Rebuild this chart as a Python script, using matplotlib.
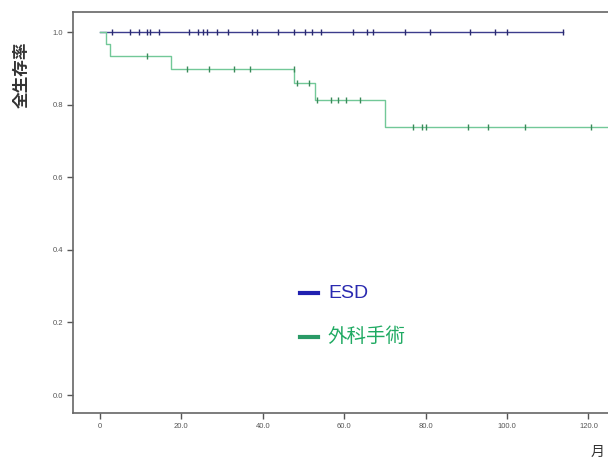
import numpy as np
import matplotlib
matplotlib.use("Agg")
import matplotlib.pyplot as plt
from matplotlib.lines import Line2D

# ---- data ----
esd_start_end = [0.0, 113.8]
esd_surv = [1.0, 1.0]
esd_censor = [3.1, 7.5, 9.7, 11.6, 12.3, 14.6, 21.9, 24.2, 25.4, 26.2, 28.7, 31.5,
              37.3, 38.5, 43.7, 47.7, 50.4, 52.0, 54.3, 62.1, 65.5, 67.0, 74.9,
              81.1, 90.9, 97.1, 99.9, 113.8]

surg_times = [0.0, 1.6, 2.6, 17.4, 47.7, 52.8, 70.0, 130.0]
surg_surv = [1.0, 0.967, 0.934, 0.900, 0.859, 0.812, 0.739, 0.739]
surg_censor = [11.6, 21.4, 26.9, 33.0, 36.9, 47.6, 48.3, 51.4, 53.4, 56.7, 58.6,
               60.4, 63.9, 76.8, 79.0, 80.1, 90.5, 95.4, 104.3, 120.6]

xticks = [0, 20, 40, 60, 80, 100, 120]
xticklabels = ["0", "20.0", "40.0", "60.0", "80.0", "100.0", "120.0"]
yticks = [0.0, 0.2, 0.4, 0.6, 0.8, 1.0]
yticklabels = ["0.0", "0.2", "0.4", "0.6", "0.8", "1.0"]
legend_labels = ["ESD", "外科手術"]

esd_line = "#3c3c8c"
esd_mark = "#2a2a70"
surg_line = "#72c898"
surg_mark = "#3a8a5a"
esd_text = "#2a2ab0"
surg_text = "#1faa62"

cjk = ["Noto Sans CJK JP", "DejaVu Sans"]
plt.rcParams['font.family'] = ["Liberation Sans", "Noto Sans CJK JP", "DejaVu Sans"]

fig = plt.figure(figsize=(6.08, 4.61), dpi=100)
ax = fig.add_axes([73/608, 1-413/461, 1-73/608, (413-12)/461])

ax.step(esd_start_end, esd_surv, where='post', color=esd_line, lw=1.0)
ax.plot(esd_censor, np.interp(esd_censor, esd_start_end, esd_surv), ls='none',
        marker='|', ms=5, mew=1.0, color=esd_mark)

ax.step(surg_times, surg_surv, where='post', color=surg_line, lw=1.0)
idx = np.searchsorted(surg_times, surg_censor, side='right') - 1
ax.plot(surg_censor, np.array(surg_surv)[idx], ls='none',
        marker='|', ms=5, mew=1.0, color=surg_mark)

ax.set_xlim(-6.6, 124.8)
ax.set_ylim(-0.0496, 1.056)
ax.set_xticks(xticks)
ax.set_xticklabels(xticklabels)
ax.set_yticks(yticks)
ax.set_yticklabels(yticklabels)
ax.tick_params(axis='both', labelsize=5.5, colors='#555555', length=4, width=1, pad=3)
for s in ['left', 'bottom', 'top']:
    ax.spines[s].set_color('#666666')
    ax.spines[s].set_linewidth(1.2)
ax.spines['right'].set_visible(False)

# y label and x label
fig.text(22/608, 1-75/461, "全生存率", rotation=90, ha='center', va='center',
         fontsize=12, color='#333333', family=cjk, fontweight='bold')
fig.text(598/608, 1-452/461, "月", ha='center', va='center', fontsize=10,
         color='#333333', family=cjk)

# legend
for (yy, col, tcol, lab) in [(293, "#2020b0", esd_text, legend_labels[0]),
                             (337, "#2a9a66", surg_text, legend_labels[1])]:
    yf = 1 - yy/461
    fig.add_artist(Line2D([300/608, 318/608], [yf, yf], color=col,
                          lw=3, transform=fig.transFigure))
    fig.text(328/608, yf, lab, ha='left', va='center', fontsize=14, color=tcol,
             family=["Liberation Sans", "Noto Sans CJK JP"])

fig.savefig("out.png", dpi=100)
